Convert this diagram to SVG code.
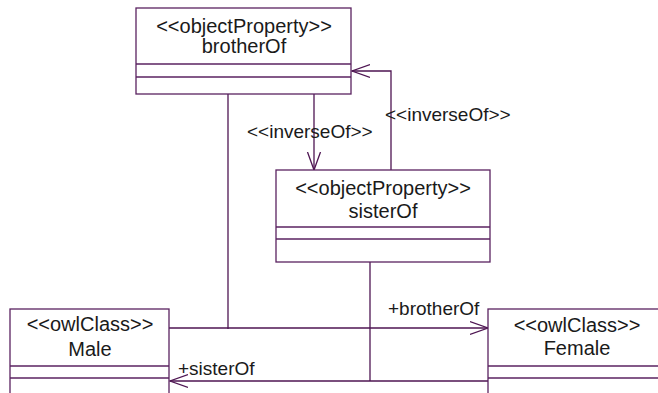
<svg xmlns="http://www.w3.org/2000/svg" width="658" height="393" viewBox="0 0 658 393">
<defs>
<style>
.box{fill:#ffffff;stroke:#5a2260;stroke-width:1.3}
.div{stroke:#5a2260;stroke-width:1.3}
.ln{fill:none;stroke:#4e1552;stroke-width:1.3}
text{font-family:"Liberation Sans",Arial,sans-serif;font-size:19px;fill:#1a1a1a}
.c{text-anchor:middle;font-size:20px}
</style>
<marker id="open" markerUnits="userSpaceOnUse" markerWidth="20" markerHeight="16" refX="18" refY="7" orient="auto" viewBox="0 0 20 14">
<path d="M0,0.5 L18,7 L0,13.5" fill="none" stroke="#4e1552" stroke-width="1.3"/>
</marker>
</defs>
<rect width="658" height="393" fill="#ffffff"/>
<g id="connectors">
<line class="ln" x1="314" y1="94" x2="314" y2="170" marker-end="url(#open)"/>
<polyline class="ln" points="391,170 391,71 352,71" marker-end="url(#open)"/>
<line class="ln" x1="169" y1="328" x2="488" y2="328" marker-end="url(#open)"/>
<line class="ln" x1="488" y1="381" x2="170" y2="381" marker-end="url(#open)"/>
<line class="ln" x1="228" y1="94" x2="228" y2="329"/>
<line class="ln" x1="370" y1="262" x2="370" y2="381"/>
<text x="247" y="138">&lt;&lt;inverseOf&gt;&gt;</text>
<text x="385" y="121">&lt;&lt;inverseOf&gt;&gt;</text>
<text x="388" y="315">+brotherOf</text>
<text x="178" y="375">+sisterOf</text>
</g>
<g id="brotherOf">
<rect class="box" x="136" y="8" width="215" height="86"/>
<line class="div" x1="136" y1="64" x2="351" y2="64"/>
<line class="div" x1="136" y1="77" x2="351" y2="77"/>
<text class="c" x="244" y="33">&lt;&lt;objectProperty&gt;&gt;</text>
<text class="c" x="244" y="53">brotherOf</text>
</g>
<g id="sisterOf">
<rect class="box" x="276" y="170" width="214" height="92"/>
<line class="div" x1="276" y1="227" x2="490" y2="227"/>
<line class="div" x1="276" y1="239" x2="490" y2="239"/>
<text class="c" x="383" y="195">&lt;&lt;objectProperty&gt;&gt;</text>
<text class="c" x="383" y="218">sisterOf</text>
</g>
<g id="Male">
<rect class="box" x="10" y="309" width="159" height="100"/>
<line class="div" x1="10" y1="366" x2="169" y2="366"/>
<line class="div" x1="10" y1="378" x2="169" y2="378"/>
<text class="c" x="90" y="331">&lt;&lt;owlClass&gt;&gt;</text>
<text class="c" x="90" y="356">Male</text>
</g>
<g id="Female">
<rect class="box" x="488" y="309" width="178" height="100"/>
<line class="div" x1="488" y1="366" x2="666" y2="366"/>
<line class="div" x1="488" y1="378" x2="666" y2="378"/>
<text class="c" x="577" y="332">&lt;&lt;owlClass&gt;&gt;</text>
<text class="c" x="577" y="355">Female</text>
</g>
</svg>
